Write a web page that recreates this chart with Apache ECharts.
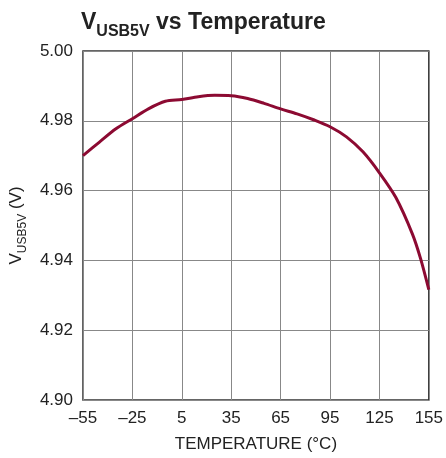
<!DOCTYPE html>
<html style="height: 100%">
<head>
    <meta charset="utf-8">
    <title>VUSB5V vs Temperature</title>
</head>
<body style="height: 100%; margin: 0; background: #fff">
    <div id="container" style="width: 446px; height: 458px"></div>
    <script src="https://cdn.jsdelivr.net/npm/echarts@6/dist/echarts.min.js"></script>
    <script type="text/javascript">
        // data
        var temps = [-55, -45, -35, -25, -15, -5, 5, 15, 25, 35, 45, 55, 65, 75, 85, 95, 105, 115, 125, 135, 145, 150, 155];
        var volts = [4.9700, 4.9739, 4.9777, 4.9806, 4.9835, 4.9856, 4.9861, 4.9869, 4.9873, 4.9872, 4.9864, 4.9850, 4.9834, 4.9820, 4.9803, 4.9783, 4.9754, 4.9711, 4.9651, 4.9580, 4.9476, 4.9405, 4.9316];
        var xTicks = [-55, -25, 5, 35, 65, 95, 125, 155];

        var font = '"Liberation Sans Narrow", "Liberation Sans", sans-serif';
        var data = temps.map(function (t, i) { return [t, volts[i]]; });

        var myChart = echarts.init(document.getElementById('container'));
        myChart.setOption({
            animation: false,
            title: {
                text: '{v|V}{sub|USB5V}{v| vs Temperature}',
                left: 76,
                top: 6,
                textStyle: {
                    rich: {
                        v: { fontFamily: font, fontWeight: 'bold', fontSize: 23, color: '#222', verticalAlign: 'bottom' },
                        sub: { fontFamily: font, fontWeight: 'bold', fontSize: 16, color: '#222', verticalAlign: 'bottom', padding: [0, 0, -6, 0] }
                    }
                }
            },
            grid: {
                left: 81, top: 51, right: 13, bottom: 55,
                show: true, borderColor: '#333', borderWidth: 1.5
            },
            xAxis: {
                type: 'value',
                min: -55, max: 155, interval: 30,
                name: 'TEMPERATURE (°C)',
                nameLocation: 'middle',
                nameGap: 36,
                nameTextStyle: { fontFamily: font, fontSize: 17, color: '#222' },
                axisLine: { show: false },
                axisTick: { show: false },
                axisLabel: {
                    fontFamily: font, fontSize: 17, color: '#222', margin: 10,
                    formatter: function (v) { return xTicks.indexOf(v) >= 0 ? String(v).replace('-', '–') : ''; }
                },
                splitLine: { lineStyle: { color: '#888', width: 1 } }
            },
            yAxis: {
                type: 'value',
                min: 4.90, max: 5.00, interval: 0.02,
                name: '{n|V}{s|USB5V}{n| (V)}',
                nameLocation: 'middle',
                nameGap: 56,
                nameRotate: 90,
                nameTextStyle: {
                    rich: {
                        n: { fontFamily: font, fontSize: 17, color: '#222', verticalAlign: 'bottom' },
                        s: { fontFamily: font, fontSize: 12, color: '#222', verticalAlign: 'bottom', padding: [0, 0, -4, 0] }
                    }
                },
                axisLine: { show: false },
                axisTick: { show: false },
                axisLabel: {
                    fontFamily: font, fontSize: 17, color: '#222', margin: 10,
                    formatter: function (v) { return v.toFixed(2); }
                },
                splitLine: { lineStyle: { color: '#888', width: 1 } }
            },
            series: [{
                type: 'line',
                data: data,
                smooth: 0.3,
                symbol: 'none',
                lineStyle: { color: '#8c0a32', width: 3 }
            }]
        });
    </script>
</body>
</html>
